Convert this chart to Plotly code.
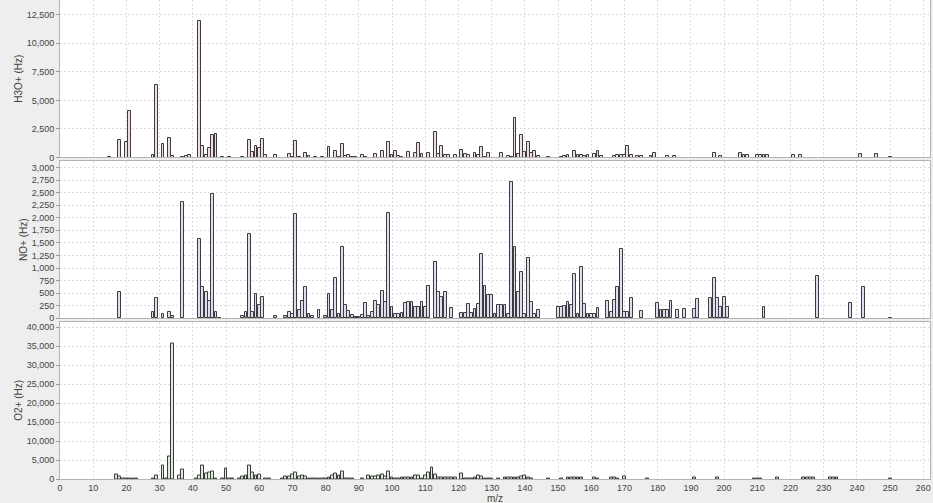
import plotly.graph_objects as go

# ---- H3O+ reagent ion spectrum ----
h3o_mz = [15, 18, 20, 21, 28, 29, 31, 33, 34, 37, 38, 39, 42, 43, 44, 45, 46, 47, 49, 51,
          55, 57, 58, 59, 60, 61, 62, 65, 69, 70, 71, 72, 74, 75, 77, 79, 81, 83, 84, 85,
          86, 87, 88, 89, 91, 92, 95, 97, 99, 100, 101, 102, 103, 105, 107, 108, 109, 111,
          113, 114, 115, 116, 117, 119, 121, 122, 123, 125, 126, 127, 128, 129, 133, 135,
          136, 137, 138, 139, 140, 141, 142, 143, 144, 147, 151, 152, 153, 155, 156, 157,
          158, 159, 161, 162, 163, 167, 168, 169, 170, 171, 172, 174, 175, 178, 179, 183,
          185, 197, 199, 205, 206, 207, 210, 211, 212, 213, 221, 223, 241, 246, 250]
h3o_hz = [20, 1500, 1400, 4100, 180, 6350, 1200, 1750, 100, 20, 100, 200, 11950, 1050, 180,
          800, 2000, 2080, 60, 60, 10, 1550, 480, 1000, 870, 1650, 180, 180, 290, 50, 1470,
          30, 380, 150, 30, 80, 950, 600, 50, 1200, 100, 250, 30, 30, 250, 30, 300, 550,
          1400, 180, 550, 120, 60, 450, 380, 1300, 300, 400, 2200, 320, 1000, 180, 180,
          180, 670, 320, 200, 380, 180, 960, 80, 400, 380, 120, 50, 3500, 320, 2000, 500,
          1400, 380, 600, 120, 20, 80, 120, 250, 600, 220, 250, 120, 200, 300, 550, 120,
          120, 180, 180, 180, 1000, 180, 120, 120, 120, 380, 120, 120, 380, 120, 380, 180,
          180, 180, 180, 180, 180, 180, 180, 300, 300, 10]

# ---- NO+ reagent ion spectrum ----
no_mz = [18, 28, 29, 31, 33, 34, 37, 42, 43, 44, 45, 46, 47, 48, 55, 56, 57, 58, 59, 60,
         61, 65, 68, 69, 70, 71, 72, 73, 74, 75, 76, 78, 80, 81, 82, 83, 84, 85, 86, 87,
         88, 89, 90, 91, 92, 93, 94, 95, 96, 97, 98, 99, 100, 101, 102, 103, 104, 105,
         106, 107, 108, 109, 110, 111, 113, 114, 115, 116, 118, 121, 122, 123, 124, 125,
         126, 127, 128, 129, 130, 131, 132, 133, 134, 135, 136, 137, 138, 139, 140, 141,
         142, 143, 144, 150, 151, 152, 153, 154, 155, 156, 157, 158, 159, 160, 161, 162,
         165, 166, 167, 168, 169, 170, 171, 172, 175, 180, 181, 182, 183, 184, 186, 188,
         191, 192, 196, 197, 198, 199, 200, 201, 212, 228, 238, 242, 250]
no_hz = [520, 132, 410, 86, 132, 40, 2310, 1570, 615, 515, 344, 2465, 132, 5, 40, 132,
         1685, 132, 476, 264, 423, 40, 40, 132, 92, 2082, 165, 350, 630, 86, 40, 158, 40,
         476, 158, 800, 79, 1420, 258, 139, 73, 26, 26, 73, 297, 40, 132, 344, 258, 542,
         330, 2101, 231, 86, 86, 99, 297, 324, 330, 218, 218, 330, 218, 634, 1123, 515,
         416, 515, 198, 99, 99, 278, 99, 185, 278, 1282, 634, 456, 456, 86, 271, 271, 258,
         86, 2709, 1427, 515, 918, 92, 1209, 324, 86, 165, 225, 225, 238, 330, 258, 872,
         86, 1024, 278, 92, 92, 92, 211, 344, 119, 370, 615, 1375, 132, 132, 396, 145,
         310, 158, 158, 172, 337, 172, 178, 185, 376, 396, 800, 410, 218, 416, 218, 231,
         839, 310, 628, 5]

# ---- O2+ reagent ion spectrum ----
o2_mz = [17, 18, 19, 20, 21, 22, 23, 28, 29, 31, 32, 33, 34, 36, 37, 41, 42, 43, 44, 45,
         46, 47, 49, 50, 51, 52, 54, 55, 56, 57, 58, 59, 60, 62, 63, 67, 68, 69, 70, 71,
         72, 73, 74, 75, 76, 77, 78, 79, 80, 81, 82, 83, 84, 85, 86, 87, 88, 91, 93, 94,
         95, 96, 97, 98, 99, 100, 101, 102, 103, 104, 105, 106, 107, 108, 109, 110, 111,
         112, 113, 114, 115, 116, 117, 118, 119, 121, 122, 123, 124, 125, 126, 127, 128,
         129, 130, 132, 134, 135, 136, 137, 138, 139, 140, 141, 142, 147, 151, 153, 154,
         155, 156, 157, 161, 162, 166, 167, 168, 170, 177, 191, 198, 209, 210, 211, 216,
         224, 225, 226, 227, 232, 233, 234, 250]
o2_hz = [1312, 612, 100, 260, 200, 80, 80, 260, 1050, 3500, 200, 6037, 35800, 875, 2625,
         260, 1050, 3675, 1400, 1750, 1925, 260, 50, 2890, 50, 30, 260, 612, 1050, 3675,
         1660, 875, 1312, 40, 40, 260, 790, 790, 1140, 1840, 612, 900, 570, 200, 200, 200,
         200, 200, 200, 525, 875, 1575, 960, 2100, 200, 200, 200, 200, 1050, 700, 700,
         1050, 1312, 790, 2100, 525, 260, 260, 350, 350, 525, 350, 1050, 1050, 260, 1050,
         1840, 2975, 1312, 440, 350, 350, 350, 350, 350, 1490, 260, 260, 260, 440, 875,
         612, 260, 100, 100, 100, 350, 350, 350, 350, 350, 612, 1050, 525, 100, 100, 100,
         350, 350, 350, 350, 350, 525, 150, 525, 440, 100, 790, 150, 350, 350, 150, 200,
         150, 350, 350, 350, 350, 350, 350, 350, 350, 50]

x_ticks = list(range(0, 261, 10))

panels = [
    # (x, y, fill, title, range, dtick, domain)
    (h3o_mz, h3o_hz, "#f0dede", "H3O+ (Hz)", [0, 13790], 2500, [0.6712, 1.0]),
    (no_mz, no_hz, "#dedef0", "NO+ (Hz)", [0, 3129], 250, [0.3355, 0.6639]),
    (o2_mz, o2_hz, "#dcecd8", "O2+ (Hz)", [0, 41500], 5000, [0.0, 0.3288]),
]

fig = go.Figure()
font_family = "Liberation Sans, Arial, sans-serif"
grid_kw = dict(showgrid=True, gridcolor="#dcdcdc", griddash="2px,2px", gridwidth=1)
tick_font = dict(size=9, color="#444444", family=font_family)
title_font = dict(size=10, color="#444444", family=font_family)

for i, (xs, ys, fill, title, yr, dt, dom) in enumerate(panels, start=1):
    sfx = "" if i == 1 else str(i)
    fig.add_trace(go.Bar(
        x=xs, y=ys, width=0.85,
        marker=dict(color=fill, line=dict(color="#3c3c3c", width=1)),
        xaxis="x" + sfx, yaxis="y" + sfx, showlegend=False,
        hovertemplate="m/z %{x}<br>%{y:,} Hz<extra></extra>",
    ))
    fig.layout["yaxis" + sfx] = dict(
        domain=dom, range=yr, dtick=dt, tick0=0, tickformat=",d",
        anchor="x" + sfx, zeroline=False,
        showline=True, linecolor="#b4b4b4", linewidth=1, mirror=True,
        ticks="outside", ticklen=3, tickcolor="#9a9a9a",
        tickfont=tick_font,
        title=dict(text=title, font=title_font, standoff=2),
        **grid_kw,
    )
    fig.layout["xaxis" + sfx] = dict(
        domain=[0, 1], range=[0, 262], tickvals=x_ticks,
        anchor="y" + sfx, matches=None if i == 1 else "x", zeroline=False,
        showline=True, linecolor="#b4b4b4", linewidth=1, mirror=True,
        ticks="",
        showticklabels=(i == 3),
        tickfont=tick_font,
        **grid_kw,
    )

# x-axis title placed just under the tick labels of the bottom panel
fig.add_annotation(
    text="m/z", xref="paper", yref="paper", x=0.5, y=-0.0397,
    xanchor="center", yanchor="middle", showarrow=False, font=title_font,
)

fig.update_layout(
    width=933, height=503,
    margin=dict(l=60, r=3, t=0, b=24),
    paper_bgcolor="#eeeeee", plot_bgcolor="#ffffff",
    bargap=0,
)

fig.write_html("out.html")
